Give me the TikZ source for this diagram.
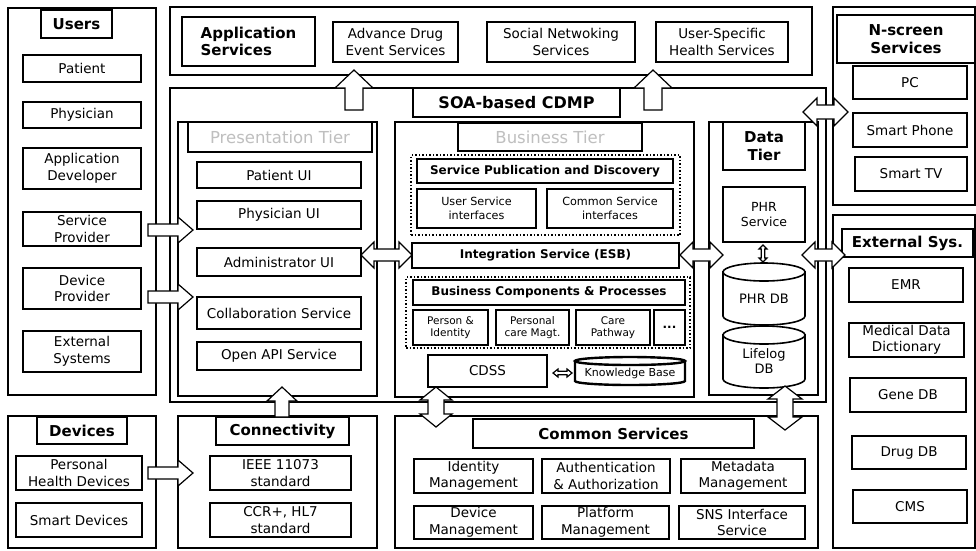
\documentclass[tikz,border=0pt]{standalone}
\usepackage{fontspec}
\setmainfont{DejaVu Sans}
\begin{document}
\begin{tikzpicture}[x=1pt,y=-1pt,
  outer/.style={draw,line width=1.8pt,inner sep=0pt,outer sep=0pt},
  ttl/.style={draw,line width=2pt,inner sep=1pt,outer sep=0pt,align=center,font=\fontsize{15}{17.5}\selectfont\bfseries},
  itm/.style={draw,line width=1.6pt,inner sep=1pt,outer sep=0pt,align=center,font=\fontsize{13.5}{16.5}\selectfont},
  sml/.style={itm,font=\fontsize{11.2}{13.5}\selectfont},
  tny/.style={itm,font=\fontsize{10.5}{12.5}\selectfont},
  btl/.style={itm,line width=1.8pt,font=\fontsize{12}{14}\selectfont\bfseries},
  gtl/.style={draw,line width=2pt,inner sep=1pt,outer sep=0pt,text=gray!50,font=\fontsize{16.5}{18}\selectfont},
  dotbox/.style={draw,line width=1.5pt,dotted,inner sep=0pt,outer sep=0pt},
  cyltxt/.style={align=center,inner sep=0pt,font=\fontsize{13}{15}\selectfont},
  kbtxt/.style={align=center,inner sep=0pt,font=\fontsize{11}{13}\selectfont},
  blk/.style={draw,fill=white,line width=1.2pt,line join=miter}]
\newcommand\bx[7]{\node[#2,minimum width={#5pt-#3pt},minimum height={#6pt-#4pt}] (#1) at ({(#3+#5)/2},{(#4+#6)/2}) {#7};}
\newcommand\cyl[9]{%
  \path[draw,fill=white,line width=#7] (#2,{#3+#6}) -- (#2,{#5-#6}) arc[start angle=180,end angle=0,x radius={(#4-#2)/2},y radius=#6] -- (#4,{#3+#6}) -- cycle;
  \draw[line width=#7,fill=white] ({(#2+#4)/2},{#3+#6}) ellipse[x radius={(#4-#2)/2},y radius=#6];
  \node[#9] (#1) at ({(#2+#4)/2},{(#3+#5)/2+#6/2}) {#8};}
\newcommand\blkR[6]{\draw[blk] (#1,{#3-#6}) -- ({#2-#4},{#3-#6}) -- ({#2-#4},{#3-#5}) -- (#2,#3) -- ({#2-#4},{#3+#5}) -- ({#2-#4},{#3+#6}) -- (#1,{#3+#6}) -- cycle;}
\newcommand\blkU[6]{\draw[blk] (#1,#2) -- ({#1+#5},{#2+#4}) -- ({#1+#6},{#2+#4}) -- ({#1+#6},#3) -- ({#1-#6},#3) -- ({#1-#6},{#2+#4}) -- ({#1-#5},{#2+#4}) -- cycle;}
\newcommand\blkHD[6]{\draw[blk] (#1,#3) -- ({#1+#4},{#3-#5}) -- ({#1+#4},{#3-#6}) -- ({#2-#4},{#3-#6}) -- ({#2-#4},{#3-#5}) -- (#2,#3) -- ({#2-#4},{#3+#5}) -- ({#2-#4},{#3+#6}) -- ({#1+#4},{#3+#6}) -- ({#1+#4},{#3+#5}) -- cycle;}
\newcommand\blkVD[6]{\draw[blk] (#1,#2) -- ({#1+#5},{#2+#4}) -- ({#1+#6},{#2+#4}) -- ({#1+#6},{#3-#4}) -- ({#1+#5},{#3-#4}) -- (#1,#3) -- ({#1-#5},{#3-#4}) -- ({#1-#6},{#3-#4}) -- ({#1-#6},{#2+#4}) -- ({#1-#5},{#2+#4}) -- cycle;}

\useasboundingbox[fill=white] (0,0) rectangle (976,550);

% ---------------- Users
\bx{users}{outer}{8}{8}{156}{395}{}
\bx{usersT}{ttl}{41}{10}{112}{38}{Users}
\bx{patient}{itm}{23}{55}{141}{82}{Patient}
\bx{physician}{itm}{23}{102}{141}{128}{Physician}
\bx{appdev}{itm}{23}{148}{141}{189}{Application\\Developer}
\bx{servprov}{itm}{23}{212}{141}{246}{Service\\Provider}
\bx{devprov}{itm}{23}{268}{141}{309}{Device\\Provider}
\bx{extsysU}{itm}{23}{331}{141}{372}{External\\Systems}

% ---------------- Application Services
\bx{appsrv}{outer}{170}{7}{812}{75}{}
\bx{appsrvT}{ttl,align=left}{182}{17}{315}{66}{Application\\Services}
\bx{ade}{itm}{333}{22}{458}{62}{Advance Drug\\Event Services}
\bx{sns}{itm}{487}{22}{635}{62}{Social Netwoking\\Services}
\bx{ush}{itm}{656}{22}{788}{62}{User-Specific\\Health Services}

% ---------------- SOA-based CDMP
\bx{soa}{outer}{170}{88}{826}{402}{}
\bx{soaT}{ttl,font=\fontsize{16}{18}\selectfont\bfseries}{413}{88}{620}{117}{SOA-based CDMP}

% Presentation tier
\bx{pres}{outer}{178}{122}{377}{396}{}
\bx{presT}{gtl}{188}{122}{372}{152}{Presentation Tier}
\bx{patui}{itm}{197}{162}{361}{188}{Patient UI}
\bx{phyui}{itm}{197}{201}{361}{229}{Physician UI}
\bx{admui}{itm}{197}{248}{361}{276}{Administrator UI}
\bx{collab}{itm}{197}{297}{361}{329}{Collaboration Service}
\bx{openapi}{itm}{197}{342}{361}{370}{Open API Service}

% Business tier
\bx{bus}{outer}{395}{122}{694}{397}{}
\bx{busT}{gtl}{458}{123}{642}{151}{Business Tier}
\bx{dot1}{dotbox}{411}{155}{680}{235}{}
\bx{spd}{btl}{417}{159}{673}{183}{Service Publication and Discovery}
\bx{usi}{sml}{417}{189}{536}{228}{User Service\\interfaces}
\bx{csi}{sml}{547}{189}{673}{228}{Common Service\\interfaces}
\bx{esb}{btl}{412}{243}{679}{268}{Integration Service (ESB)}
\bx{dot2}{dotbox}{406}{277}{690}{348}{}
\bx{bcp}{btl}{413}{280}{685}{305}{Business Components \& Processes}
\bx{pid}{tny}{413}{310}{488}{345}{Person \&\\Identity}
\bx{pcm}{tny}{496}{310}{569}{345}{Personal\\care Magt.}
\bx{cpw}{tny}{576}{310}{650}{345}{Care\\Pathway}
\bx{more}{itm,font=\fontsize{12}{14}\selectfont\bfseries}{654}{310}{685}{345}{...}
\bx{cdss}{itm}{428}{355}{547}{387}{CDSS}
\cyl{kb}{575}{357}{685}{385}{4}{2.4pt}{Knowledge Base}{kbtxt}

% Data tier
\bx{data}{outer}{709}{122}{818}{395}{}
\bx{dataT}{ttl}{723}{122}{805}{170}{Data\\Tier}
\bx{phrsrv}{itm,font=\fontsize{12.5}{15}\selectfont}{723}{187}{805}{242}{PHR\\Service}
\cyl{phrdb}{723}{263}{805}{325}{9}{1.6pt}{PHR DB}{cyltxt}
\cyl{lifedb}{723}{326}{805}{388}{9}{1.6pt}{Lifelog\\DB}{cyltxt}

% ---------------- N-screen
\bx{nscr}{outer}{833}{7}{975}{205}{}
\bx{nscrT}{ttl}{837}{15}{975}{63}{N-screen\\Services}
\bx{pc}{itm}{853}{66}{967}{99}{PC}
\bx{phone}{itm}{853}{113}{967}{147}{Smart Phone}
\bx{tv}{itm}{855}{157}{967}{191}{Smart TV}

% ---------------- External Sys.
\bx{ext}{outer}{833}{215}{975}{548}{}
\bx{extT}{ttl}{842}{229}{973}{257}{External Sys.}
\bx{emr}{itm}{849}{268}{963}{302}{EMR}
\bx{mdd}{itm}{849}{323}{964}{357}{Medical Data\\Dictionary}
\bx{gene}{itm}{850}{378}{966}{412}{Gene DB}
\bx{drug}{itm}{852}{436}{966}{469}{Drug DB}
\bx{cms}{itm}{853}{490}{967}{523}{CMS}

% ---------------- Devices
\bx{dev}{outer}{8}{416}{156}{548}{}
\bx{devT}{ttl}{37}{417}{127}{444}{Devices}
\bx{phd}{itm}{16}{456}{142}{490}{Personal\\Health Devices}
\bx{smd}{itm}{16}{503}{142}{537}{Smart Devices}

% ---------------- Connectivity
\bx{conn}{outer}{178}{416}{377}{548}{}
\bx{connT}{ttl}{216}{417}{349}{445}{Connectivity}
\bx{ieee}{itm}{210}{456}{351}{490}{IEEE 11073\\standard}
\bx{ccr}{itm}{210}{503}{351}{537}{CCR+, HL7\\standard}

% ---------------- Common Services
\bx{com}{outer}{395}{416}{818}{548}{}
\bx{comT}{ttl}{473}{419}{754}{448}{Common Services}
\bx{idm}{itm}{414}{459}{533}{493}{Identity\\Management}
\bx{aa}{itm}{542}{459}{670}{493}{Authentication\\\& Authorization}
\bx{mm}{itm}{681}{459}{805}{493}{Metadata\\Management}
\bx{dm}{itm}{414}{506}{533}{539}{Device\\Management}
\bx{pm}{itm}{542}{506}{669}{539}{Platform\\Management}
\bx{snsi}{itm}{679}{506}{805}{539}{SNS Interface\\Service}

% ---------------- Block arrows
\blkU{354}{70}{110}{18}{19}{9}
\blkU{653}{70}{110}{18}{19}{9}
\blkHD{803}{848}{112}{14}{14}{7}
\blkHD{361}{412}{255}{13}{13}{6}
\blkHD{680}{723}{255}{13}{13}{6}
\blkHD{802}{845}{255}{13}{13}{6}
\blkR{148}{193}{230}{15}{13}{6}
\blkR{148}{193}{297}{15}{13}{6}
\blkR{148}{193}{473}{15}{13}{6}
\blkU{282}{387}{417}{14}{15}{7}
\blkVD{436}{387}{427}{13}{16}{8}
\blkVD{785}{386}{430}{13}{17}{8}
\blkHD{553}{572}{373}{5}{4}{1.8}
\blkVD{763}{245}{262}{4}{4}{1.8}
\end{tikzpicture}
\end{document}
